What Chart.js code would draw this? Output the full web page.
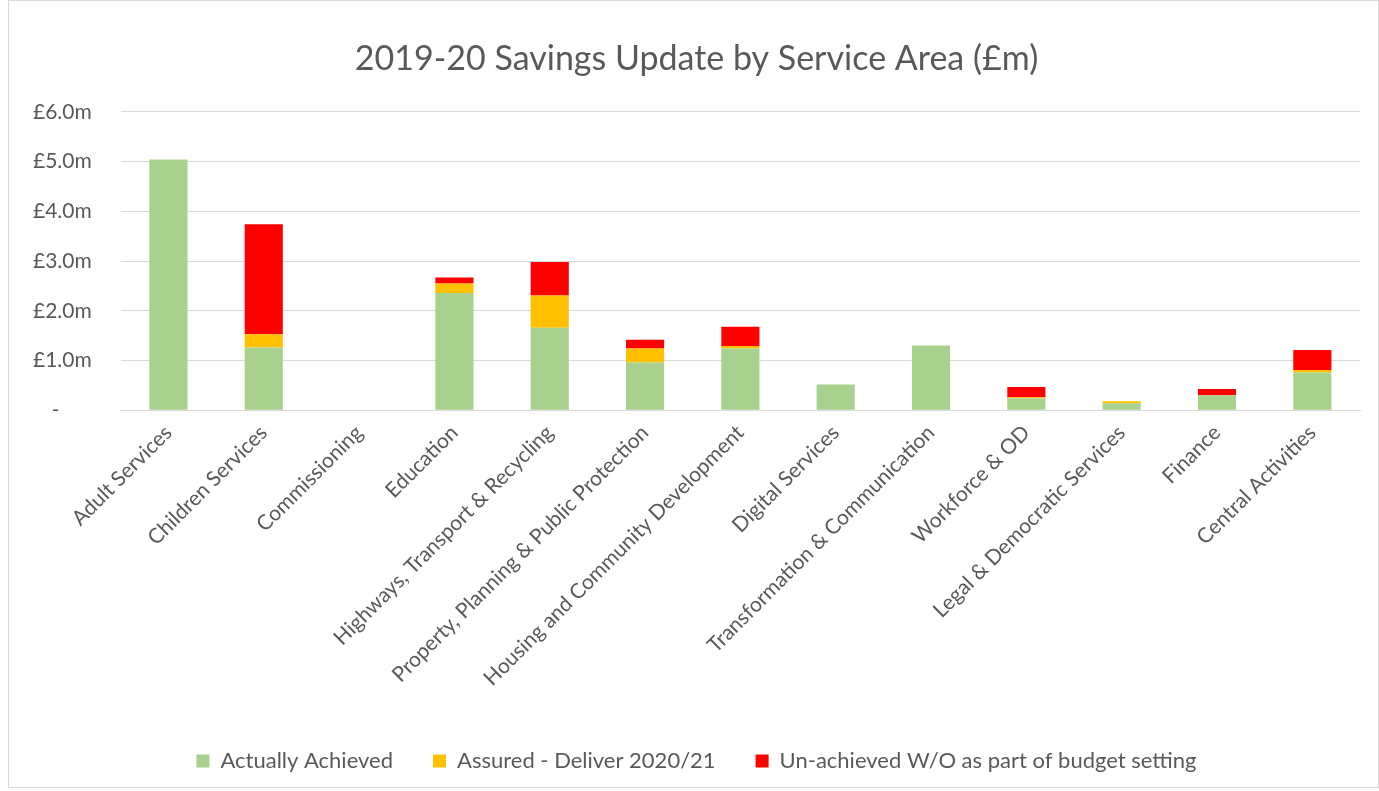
<!DOCTYPE html>
<html>
<head>
<meta charset="utf-8">
<script src="https://cdn.jsdelivr.net/npm/chart.js@4/dist/chart.umd.min.js"></script>
<style>
  html, body { margin: 0; padding: 0; background: #fff; }
  #wrap { position: absolute; left: 8px; top: 0px; width: 1371px; height: 788px; border: 1px solid #d9d9d9; box-sizing: border-box; }
  canvas { display: block; }
</style>
</head>
<body>
<div id="wrap"><canvas id="c" width="1369" height="786"></canvas></div>
<script>
const categories = ["Adult Services", "Children Services", "Commissioning", "Education",
  "Highways, Transport & Recycling", "Property, Planning & Public Protection",
  "Housing and Community Development", "Digital Services", "Transformation & Communication",
  "Workforce & OD", "Legal & Democratic Services", "Finance", "Central Activities"];
const actuallyAchieved = [5.04, 1.26, 0, 2.36, 1.66, 0.96, 1.24, 0.52, 1.30, 0.24, 0.14, 0.30, 0.76];
const assuredDeliver   = [0.00, 0.27, 0, 0.19, 0.65, 0.28, 0.05, 0.00, 0.00, 0.02, 0.04, 0.00, 0.05];
const unachievedWO     = [0.00, 2.21, 0, 0.12, 0.67, 0.18, 0.39, 0.00, 0.00, 0.21, 0.00, 0.13, 0.40];
const yTicks = [0, 1, 2, 3, 4, 5, 6];

const txt = '#595959';
const FONT = 'Lato, "Open Sans", sans-serif';
Chart.defaults.font.family = FONT;
Chart.defaults.color = txt;

new Chart(document.getElementById('c'), {
  type: 'bar',
  data: {
    labels: categories,
    datasets: [
      { label: 'Actually Achieved', data: actuallyAchieved, backgroundColor: '#A9D18E' },
      { label: 'Assured - Deliver 2020/21', data: assuredDeliver, backgroundColor: '#FFC000' },
      { label: 'Un-achieved W/O as part of budget setting', data: unachievedWO, backgroundColor: '#FF0000' }
    ]
  },
  options: {
    responsive: false,
    animation: false,
    layout: { padding: { left: 24, right: 18, top: 38, bottom: 5 } },
    datasets: { bar: { categoryPercentage: 0.8, barPercentage: 0.5, borderWidth: 0 } },
    plugins: {
      title: {
        display: true,
        text: '2019-20 Savings Update by Service Area (£m)',
        font: { size: 34, weight: 'normal', family: FONT },
        color: txt,
        padding: { top: 0, bottom: 32 }
      },
      legend: {
        position: 'bottom',
        labels: { font: { size: 22 }, color: txt, boxWidth: 13, boxHeight: 13, padding: 40 }
      },
      tooltip: { enabled: false }
    },
    scales: {
      x: {
        stacked: true,
        grid: { display: false },
        border: { display: true, color: '#d9d9d9', width: 1 },
        ticks: { font: { size: 21 }, color: txt, maxRotation: 45, minRotation: 45, autoSkip: false, padding: 2 },
        afterFit: (scale) => { scale.paddingLeft = 0; scale.paddingRight = 0; scale.height += 17; }
      },
      y: {
        stacked: true,
        min: 0, max: 6,
        afterBuildTicks: (axis) => { axis.ticks = yTicks.map(v => ({ value: v })); },
        afterFit: (scale) => { scale.width -= 29; },
        grid: { color: '#d9d9d9', lineWidth: 1, drawTicks: false },
        border: { display: false },
        ticks: {
          font: { size: 21 }, color: txt, padding: 29,
          callback: (v) => v === 0 ? '-      ' : '£' + v.toFixed(1) + 'm'
        }
      }
    }
  }
});
</script>
</body>
</html>
